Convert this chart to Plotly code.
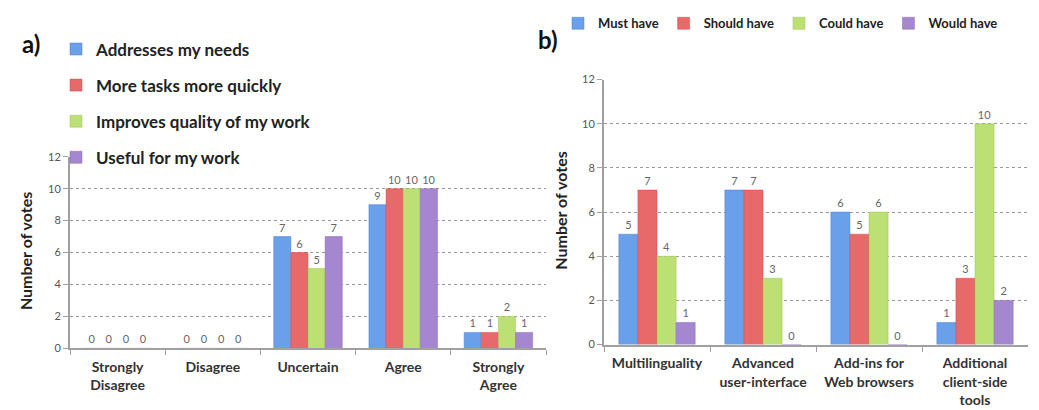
import plotly.graph_objects as go

# ---- data ----
cats_a = ["Strongly<br>Disagree", "Disagree", "Uncertain", "Agree", "Strongly<br>Agree"]
series_a = ["Addresses my needs", "More tasks more quickly", "Improves quality of my work", "Useful for my work"]
vals_a = {
    "Addresses my needs": [0, 0, 7, 9, 1],
    "More tasks more quickly": [0, 0, 6, 10, 1],
    "Improves quality of my work": [0, 0, 5, 10, 2],
    "Useful for my work": [0, 0, 7, 10, 1],
}

cats_b = ["Multilinguality", "Advanced<br>user-interface", "Add-ins for<br>Web browsers", "Additional<br>client-side<br>tools"]
series_b = ["Must have", "Should have", "Could have", "Would have"]
vals_b = {
    "Must have": [5, 7, 6, 1],
    "Should have": [7, 7, 5, 3],
    "Could have": [4, 3, 6, 10],
    "Would have": [1, 0, 0, 2],
}

y_ticks = [0, 2, 4, 6, 8, 10, 12]

colors = ["#6A9FEA", "#E8696A", "#BCE074", "#A487CE"]
line_cols = ["#4A82D4", "#D84A48", "#9CC450", "#8A69B8"]

FONT = "Lato"
W, H = 1039, 410

fig = go.Figure()

for i, s in enumerate(series_a):
    fig.add_trace(go.Bar(
        x=cats_a, y=vals_a[s], name=s, xaxis="x", yaxis="y",
        marker=dict(color=colors[i], line=dict(color=line_cols[i], width=0.5)),
        text=vals_a[s], textposition="outside", cliponaxis=False,
        textfont=dict(size=11, color="#666", family=FONT),
        legend="legend", legendgroup="a%d" % i,
    ))

for i, s in enumerate(series_b):
    fig.add_trace(go.Bar(
        x=cats_b, y=vals_b[s], name=s, xaxis="x2", yaxis="y2",
        marker=dict(color=colors[i], line=dict(color=line_cols[i], width=0.5)),
        text=vals_b[s], textposition="outside", cliponaxis=False,
        textfont=dict(size=11, color="#666", family=FONT),
        legend="legend2",
    ))

axis_common = dict(
    showline=True, linecolor="#A0A0A0", linewidth=2,
    ticks="outside", ticklen=5, tickcolor="#A0A0A0", tickwidth=1,
)

xl0, xl1 = 62 / W, 538 / W
xr0, xr1 = 596 / W, 1020 / W

bold14 = dict(size=14, color="#333", family=FONT, weight="bold")

fig.update_layout(
    width=W, height=H,
    margin=dict(l=0, r=0, t=0, b=0),
    paper_bgcolor="white", plot_bgcolor="white",
    barmode="group", bargap=0.28, bargroupgap=0,
    font=dict(family=FONT, color="#333"),
    xaxis=dict(domain=[xl0, xl1], anchor="y", tickson="boundaries",
               tickfont=bold14, ticklabelstandoff=5, showgrid=False, **axis_common),
    yaxis=dict(domain=[1 - 344 / H, 1 - 145 / H], anchor="x", range=[0, 12],
               tickvals=y_ticks, tickfont=dict(size=11, color="#555", family=FONT),
               showgrid=True, gridcolor="#999", griddash="dot", gridwidth=1,
               zeroline=False, **axis_common),
    xaxis2=dict(domain=[xr0, xr1], anchor="y2", tickson="boundaries",
                tickfont=bold14, ticklabelstandoff=5, showgrid=False, **axis_common),
    yaxis2=dict(domain=[1 - 340 / H, 1 - 65 / H], anchor="x2", range=[0, 12],
                tickvals=y_ticks, tickfont=dict(size=11, color="#555", family=FONT),
                showgrid=True, gridcolor="#999", griddash="dot", gridwidth=1,
                zeroline=False, **axis_common),
    legend=dict(x=48 / W, y=1 - 15 / H, xanchor="left", yanchor="top",
                orientation="v", bgcolor="rgba(0,0,0,0)", tracegroupgap=11,
                font=dict(size=17, color="#222", family=FONT, weight="bold"),
                itemwidth=30),
    legend2=dict(x=550 / W, y=1 + 9 / H, xanchor="left", yanchor="top",
                 orientation="h", bgcolor="rgba(0,0,0,0)",
                 font=dict(size=13, color="#222", family=FONT, weight="bold"),
                 itemwidth=30),
    showlegend=True,
    shapes=[
        # white band where the legend box hides the top gridline in the original
        dict(type="rect", xref="paper", yref="paper", layer="above",
             x0=64 / W, x1=355 / W, y0=1 - 148 / H, y1=1 - 142 / H,
             fillcolor="white", line=dict(width=0)),
    ],
    annotations=[
        dict(text="a)", x=12 / W, y=1 - 28 / H, xref="paper", yref="paper",
             xanchor="left", yanchor="middle", showarrow=False,
             font=dict(size=24, color="#111", family=FONT, weight="bold")),
        dict(text="b)", x=528 / W, y=1 - 23 / H, xref="paper", yref="paper",
             xanchor="left", yanchor="middle", showarrow=False,
             font=dict(size=24, color="#111", family=FONT, weight="bold")),
        dict(text="Number of votes", x=17 / W, y=1 - 243 / H, xref="paper", yref="paper",
             xanchor="center", yanchor="middle", showarrow=False, textangle=-90,
             font=dict(size=16, color="#222", family=FONT, weight="bold")),
        dict(text="Number of votes", x=553 / W, y=1 - 201 / H, xref="paper", yref="paper",
             xanchor="center", yanchor="middle", showarrow=False, textangle=-90,
             font=dict(size=16, color="#222", family=FONT, weight="bold")),
    ],
)

fig.write_html("out.html")
